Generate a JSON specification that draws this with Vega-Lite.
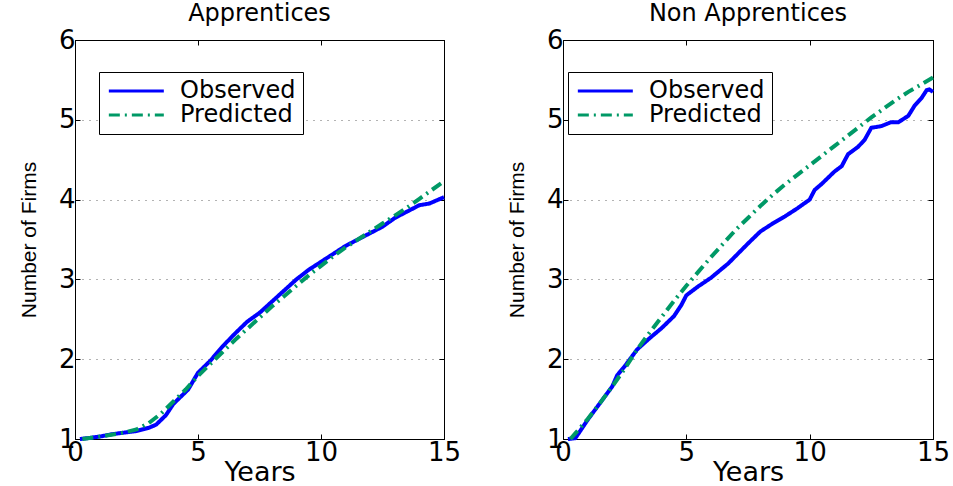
{
  "$schema": "https://vega.github.io/schema/vega-lite/v6.json",
  "background": "white",
  "padding": {"left": 17, "top": 1, "right": 5, "bottom": 0},
  "spacing": 43,
  "datasets": {
    "d": [
      {"panel": "A", "series": "Observed", "year": 0.2, "firms": 1.0},
      {"panel": "A", "series": "Observed", "year": 0.5, "firms": 1.01},
      {"panel": "A", "series": "Observed", "year": 1.0, "firms": 1.03},
      {"panel": "A", "series": "Observed", "year": 1.5, "firms": 1.06},
      {"panel": "A", "series": "Observed", "year": 2.0, "firms": 1.08},
      {"panel": "A", "series": "Observed", "year": 2.5, "firms": 1.1},
      {"panel": "A", "series": "Observed", "year": 3.0, "firms": 1.14},
      {"panel": "A", "series": "Observed", "year": 3.3, "firms": 1.18},
      {"panel": "A", "series": "Observed", "year": 3.7, "firms": 1.3},
      {"panel": "A", "series": "Observed", "year": 4.0, "firms": 1.44},
      {"panel": "A", "series": "Observed", "year": 4.3, "firms": 1.53},
      {"panel": "A", "series": "Observed", "year": 4.6, "firms": 1.62},
      {"panel": "A", "series": "Observed", "year": 5.0, "firms": 1.83},
      {"panel": "A", "series": "Observed", "year": 5.5, "firms": 1.98},
      {"panel": "A", "series": "Observed", "year": 6.0, "firms": 2.16},
      {"panel": "A", "series": "Observed", "year": 6.5, "firms": 2.32},
      {"panel": "A", "series": "Observed", "year": 7.0, "firms": 2.47},
      {"panel": "A", "series": "Observed", "year": 7.5, "firms": 2.58},
      {"panel": "A", "series": "Observed", "year": 8.0, "firms": 2.72},
      {"panel": "A", "series": "Observed", "year": 8.5, "firms": 2.86},
      {"panel": "A", "series": "Observed", "year": 9.0, "firms": 3.0},
      {"panel": "A", "series": "Observed", "year": 9.5, "firms": 3.12},
      {"panel": "A", "series": "Observed", "year": 10.0, "firms": 3.22},
      {"panel": "A", "series": "Observed", "year": 10.5, "firms": 3.32},
      {"panel": "A", "series": "Observed", "year": 11.0, "firms": 3.42},
      {"panel": "A", "series": "Observed", "year": 11.5, "firms": 3.5},
      {"panel": "A", "series": "Observed", "year": 12.0, "firms": 3.58},
      {"panel": "A", "series": "Observed", "year": 12.5, "firms": 3.66},
      {"panel": "A", "series": "Observed", "year": 13.0, "firms": 3.77},
      {"panel": "A", "series": "Observed", "year": 13.5, "firms": 3.85},
      {"panel": "A", "series": "Observed", "year": 14.0, "firms": 3.93},
      {"panel": "A", "series": "Observed", "year": 14.4, "firms": 3.95},
      {"panel": "A", "series": "Observed", "year": 15.0, "firms": 4.03},
      {"panel": "A", "series": "Predicted", "year": 0.3, "firms": 1.0},
      {"panel": "A", "series": "Predicted", "year": 1.0, "firms": 1.03},
      {"panel": "A", "series": "Predicted", "year": 2.0, "firms": 1.08},
      {"panel": "A", "series": "Predicted", "year": 2.5, "firms": 1.12},
      {"panel": "A", "series": "Predicted", "year": 3.0, "firms": 1.2},
      {"panel": "A", "series": "Predicted", "year": 3.5, "firms": 1.32},
      {"panel": "A", "series": "Predicted", "year": 4.0, "firms": 1.47},
      {"panel": "A", "series": "Predicted", "year": 4.5, "firms": 1.62},
      {"panel": "A", "series": "Predicted", "year": 5.0, "firms": 1.79},
      {"panel": "A", "series": "Predicted", "year": 5.5, "firms": 1.94},
      {"panel": "A", "series": "Predicted", "year": 6.0, "firms": 2.09},
      {"panel": "A", "series": "Predicted", "year": 6.5, "firms": 2.24},
      {"panel": "A", "series": "Predicted", "year": 7.0, "firms": 2.38},
      {"panel": "A", "series": "Predicted", "year": 7.5, "firms": 2.52},
      {"panel": "A", "series": "Predicted", "year": 8.0, "firms": 2.66},
      {"panel": "A", "series": "Predicted", "year": 8.5, "firms": 2.79},
      {"panel": "A", "series": "Predicted", "year": 9.0, "firms": 2.92},
      {"panel": "A", "series": "Predicted", "year": 9.5, "firms": 3.05},
      {"panel": "A", "series": "Predicted", "year": 10.0, "firms": 3.17},
      {"panel": "A", "series": "Predicted", "year": 10.5, "firms": 3.29},
      {"panel": "A", "series": "Predicted", "year": 11.0, "firms": 3.4},
      {"panel": "A", "series": "Predicted", "year": 11.5, "firms": 3.5},
      {"panel": "A", "series": "Predicted", "year": 12.0, "firms": 3.6},
      {"panel": "A", "series": "Predicted", "year": 12.5, "firms": 3.7},
      {"panel": "A", "series": "Predicted", "year": 13.0, "firms": 3.8},
      {"panel": "A", "series": "Predicted", "year": 13.5, "firms": 3.9},
      {"panel": "A", "series": "Predicted", "year": 14.0, "firms": 4.01},
      {"panel": "A", "series": "Predicted", "year": 14.5, "firms": 4.12},
      {"panel": "A", "series": "Predicted", "year": 15.0, "firms": 4.23},
      {"panel": "N", "series": "Observed", "year": 0.2, "firms": 1.0},
      {"panel": "N", "series": "Observed", "year": 0.5, "firms": 1.01},
      {"panel": "N", "series": "Observed", "year": 1.0, "firms": 1.24},
      {"panel": "N", "series": "Observed", "year": 1.5, "firms": 1.45},
      {"panel": "N", "series": "Observed", "year": 2.0, "firms": 1.66},
      {"panel": "N", "series": "Observed", "year": 2.2, "firms": 1.8},
      {"panel": "N", "series": "Observed", "year": 2.5, "firms": 1.91},
      {"panel": "N", "series": "Observed", "year": 3.0, "firms": 2.12},
      {"panel": "N", "series": "Observed", "year": 3.5, "firms": 2.26},
      {"panel": "N", "series": "Observed", "year": 4.0, "firms": 2.39},
      {"panel": "N", "series": "Observed", "year": 4.5, "firms": 2.54},
      {"panel": "N", "series": "Observed", "year": 4.8, "firms": 2.68},
      {"panel": "N", "series": "Observed", "year": 5.0, "firms": 2.8},
      {"panel": "N", "series": "Observed", "year": 5.47, "firms": 2.91},
      {"panel": "N", "series": "Observed", "year": 6.0, "firms": 3.02},
      {"panel": "N", "series": "Observed", "year": 6.7, "firms": 3.2},
      {"panel": "N", "series": "Observed", "year": 7.5, "firms": 3.45},
      {"panel": "N", "series": "Observed", "year": 8.0, "firms": 3.6},
      {"panel": "N", "series": "Observed", "year": 8.5, "firms": 3.7},
      {"panel": "N", "series": "Observed", "year": 9.0, "firms": 3.79},
      {"panel": "N", "series": "Observed", "year": 9.5, "firms": 3.89},
      {"panel": "N", "series": "Observed", "year": 10.0, "firms": 4.0},
      {"panel": "N", "series": "Observed", "year": 10.2, "firms": 4.12},
      {"panel": "N", "series": "Observed", "year": 10.5, "firms": 4.2},
      {"panel": "N", "series": "Observed", "year": 11.0, "firms": 4.35},
      {"panel": "N", "series": "Observed", "year": 11.3, "firms": 4.42},
      {"panel": "N", "series": "Observed", "year": 11.56, "firms": 4.57},
      {"panel": "N", "series": "Observed", "year": 11.96, "firms": 4.66},
      {"panel": "N", "series": "Observed", "year": 12.23, "firms": 4.75},
      {"panel": "N", "series": "Observed", "year": 12.5, "firms": 4.9},
      {"panel": "N", "series": "Observed", "year": 12.9, "firms": 4.92},
      {"panel": "N", "series": "Observed", "year": 13.3, "firms": 4.97},
      {"panel": "N", "series": "Observed", "year": 13.6, "firms": 4.97},
      {"panel": "N", "series": "Observed", "year": 14.0, "firms": 5.05},
      {"panel": "N", "series": "Observed", "year": 14.26, "firms": 5.18},
      {"panel": "N", "series": "Observed", "year": 14.53, "firms": 5.27},
      {"panel": "N", "series": "Observed", "year": 14.74, "firms": 5.37},
      {"panel": "N", "series": "Observed", "year": 14.85, "firms": 5.38},
      {"panel": "N", "series": "Observed", "year": 15.0, "firms": 5.35},
      {"panel": "N", "series": "Predicted", "year": 0.3, "firms": 1.0},
      {"panel": "N", "series": "Predicted", "year": 0.5, "firms": 1.07},
      {"panel": "N", "series": "Predicted", "year": 1.0, "firms": 1.25},
      {"panel": "N", "series": "Predicted", "year": 1.5, "firms": 1.45},
      {"panel": "N", "series": "Predicted", "year": 2.0, "firms": 1.66},
      {"panel": "N", "series": "Predicted", "year": 2.5, "firms": 1.88},
      {"panel": "N", "series": "Predicted", "year": 3.0, "firms": 2.12},
      {"panel": "N", "series": "Predicted", "year": 3.5, "firms": 2.33},
      {"panel": "N", "series": "Predicted", "year": 4.0, "firms": 2.53},
      {"panel": "N", "series": "Predicted", "year": 4.5, "firms": 2.73},
      {"panel": "N", "series": "Predicted", "year": 5.0, "firms": 2.92},
      {"panel": "N", "series": "Predicted", "year": 5.5, "firms": 3.1},
      {"panel": "N", "series": "Predicted", "year": 6.0, "firms": 3.28},
      {"panel": "N", "series": "Predicted", "year": 6.5, "firms": 3.45},
      {"panel": "N", "series": "Predicted", "year": 7.0, "firms": 3.62},
      {"panel": "N", "series": "Predicted", "year": 7.5, "firms": 3.77},
      {"panel": "N", "series": "Predicted", "year": 8.0, "firms": 3.92},
      {"panel": "N", "series": "Predicted", "year": 8.5, "firms": 4.06},
      {"panel": "N", "series": "Predicted", "year": 9.0, "firms": 4.19},
      {"panel": "N", "series": "Predicted", "year": 9.5, "firms": 4.31},
      {"panel": "N", "series": "Predicted", "year": 10.0, "firms": 4.43},
      {"panel": "N", "series": "Predicted", "year": 10.5, "firms": 4.55},
      {"panel": "N", "series": "Predicted", "year": 11.0, "firms": 4.67},
      {"panel": "N", "series": "Predicted", "year": 11.5, "firms": 4.79},
      {"panel": "N", "series": "Predicted", "year": 12.0, "firms": 4.91},
      {"panel": "N", "series": "Predicted", "year": 12.5, "firms": 5.03},
      {"panel": "N", "series": "Predicted", "year": 13.0, "firms": 5.14},
      {"panel": "N", "series": "Predicted", "year": 13.5, "firms": 5.25},
      {"panel": "N", "series": "Predicted", "year": 14.0, "firms": 5.35},
      {"panel": "N", "series": "Predicted", "year": 14.5, "firms": 5.44},
      {"panel": "N", "series": "Predicted", "year": 15.0, "firms": 5.53}
    ]
  },
  "config": {
    "view": {"stroke": "black", "strokeWidth": 1},
    "title": {"font": "DejaVu Sans", "fontSize": 24, "fontWeight": "normal", "color": "black", "offset": 1},
    "axis": {
      "domainColor": "black", "tickColor": "black", "labelColor": "black", "titleColor": "black",
      "labelFont": "DejaVu Sans", "labelFontSize": 26, "labelFlush": false, "labelOverlap": false,
      "tickSize": -5
    },
    "legend": {
      "orient": "none", "legendX": 24, "legendY": 32,
      "strokeColor": "black", "fillColor": "white", "padding": 7, "cornerRadius": 0,
      "symbolType": "M-1,0H5", "symbolSize": 336, "symbolStrokeWidth": 3,
      "labelFont": "DejaVu Sans", "labelFontSize": 24, "labelColor": "black", "labelOffset": 50,
      "rowPadding": 0, "title": null
    }
  },
  "resolve": {
    "scale": {"color": "independent", "strokeDash": "independent"},
    "legend": {"color": "independent", "strokeDash": "independent"}
  },
  "hconcat": [
    {
      "width": 369, "height": 399,
      "title": "Apprentices",
      "data": {"name": "d"},
      "transform": [{"filter": "datum.panel == 'A'"}],
      "layer": [
        {
          "mark": {"type": "line", "strokeWidth": 4},
          "encoding": {
            "x": {"field": "year", "type": "quantitative", "scale": {"domain": [0, 15], "nice": false},
              "axis": {"values": [0, 5, 10, 15], "title": "Years", "titleFont": "DejaVu Sans", "titleFontSize": 27, "titleFontWeight": "normal", "titlePadding": -6, "labelPadding": 5, "grid": false}},
            "y": {"field": "firms", "type": "quantitative", "scale": {"domain": [1, 6], "nice": false},
              "axis": {"values": [1, 2, 3, 4, 5, 6], "title": "Number of Firms", "titleFont": "Liberation Sans", "titleFontSize": 21, "titleFontWeight": "normal", "titlePadding": 19, "labelPadding": 5, "grid": true, "gridDash": [1, 6], "gridColor": "#666666", "gridWidth": 1}},
            "color": {"field": "series", "type": "nominal", "scale": {"domain": ["Observed", "Predicted"], "range": ["#0000ff", "#009966"]}},
            "strokeDash": {"field": "series", "type": "nominal", "scale": {"domain": ["Observed", "Predicted"], "range": [[1, 0], [11, 5, 2, 5]]}}
          }
        },
        {
          "mark": {"type": "line", "opacity": 0},
          "encoding": {
            "x": {"field": "year", "type": "quantitative", "scale": {"domain": [0, 15], "nice": false},
              "axis": {"orient": "top", "values": [0, 5, 10, 15], "labels": false, "title": null, "grid": false}},
            "y": {"field": "firms", "type": "quantitative", "scale": {"domain": [1, 6], "nice": false},
              "axis": {"orient": "right", "values": [1, 2, 3, 4, 5, 6], "labels": false, "title": null, "grid": false}},
            "detail": {"field": "series"}
          }
        }
      ],
      "resolve": {"axis": {"x": "independent", "y": "independent"}}
    },
    {
      "width": 370, "height": 399,
      "title": "Non Apprentices",
      "data": {"name": "d"},
      "transform": [{"filter": "datum.panel == 'N'"}],
      "layer": [
        {
          "mark": {"type": "line", "strokeWidth": 4},
          "encoding": {
            "x": {"field": "year", "type": "quantitative", "scale": {"domain": [0, 15], "nice": false},
              "axis": {"values": [0, 5, 10, 15], "title": "Years", "titleFont": "DejaVu Sans", "titleFontSize": 27, "titleFontWeight": "normal", "titlePadding": -6, "labelPadding": 5, "grid": false}},
            "y": {"field": "firms", "type": "quantitative", "scale": {"domain": [1, 6], "nice": false},
              "axis": {"values": [1, 2, 3, 4, 5, 6], "title": "Number of Firms", "titleFont": "Liberation Sans", "titleFontSize": 21, "titleFontWeight": "normal", "titlePadding": 19, "labelPadding": 5, "grid": true, "gridDash": [1, 6], "gridColor": "#666666", "gridWidth": 1}},
            "color": {"field": "series", "type": "nominal", "scale": {"domain": ["Observed", "Predicted"], "range": ["#0000ff", "#009966"]}, "legend": {"legendX": 5, "legendY": 32}},
            "strokeDash": {"field": "series", "type": "nominal", "scale": {"domain": ["Observed", "Predicted"], "range": [[1, 0], [11, 5, 2, 5]]}, "legend": {"legendX": 5, "legendY": 32}}
          }
        },
        {
          "mark": {"type": "line", "opacity": 0},
          "encoding": {
            "x": {"field": "year", "type": "quantitative", "scale": {"domain": [0, 15], "nice": false},
              "axis": {"orient": "top", "values": [0, 5, 10, 15], "labels": false, "title": null, "grid": false}},
            "y": {"field": "firms", "type": "quantitative", "scale": {"domain": [1, 6], "nice": false},
              "axis": {"orient": "right", "values": [1, 2, 3, 4, 5, 6], "labels": false, "title": null, "grid": false}},
            "detail": {"field": "series"}
          }
        }
      ],
      "resolve": {"axis": {"x": "independent", "y": "independent"}}
    }
  ]
}
